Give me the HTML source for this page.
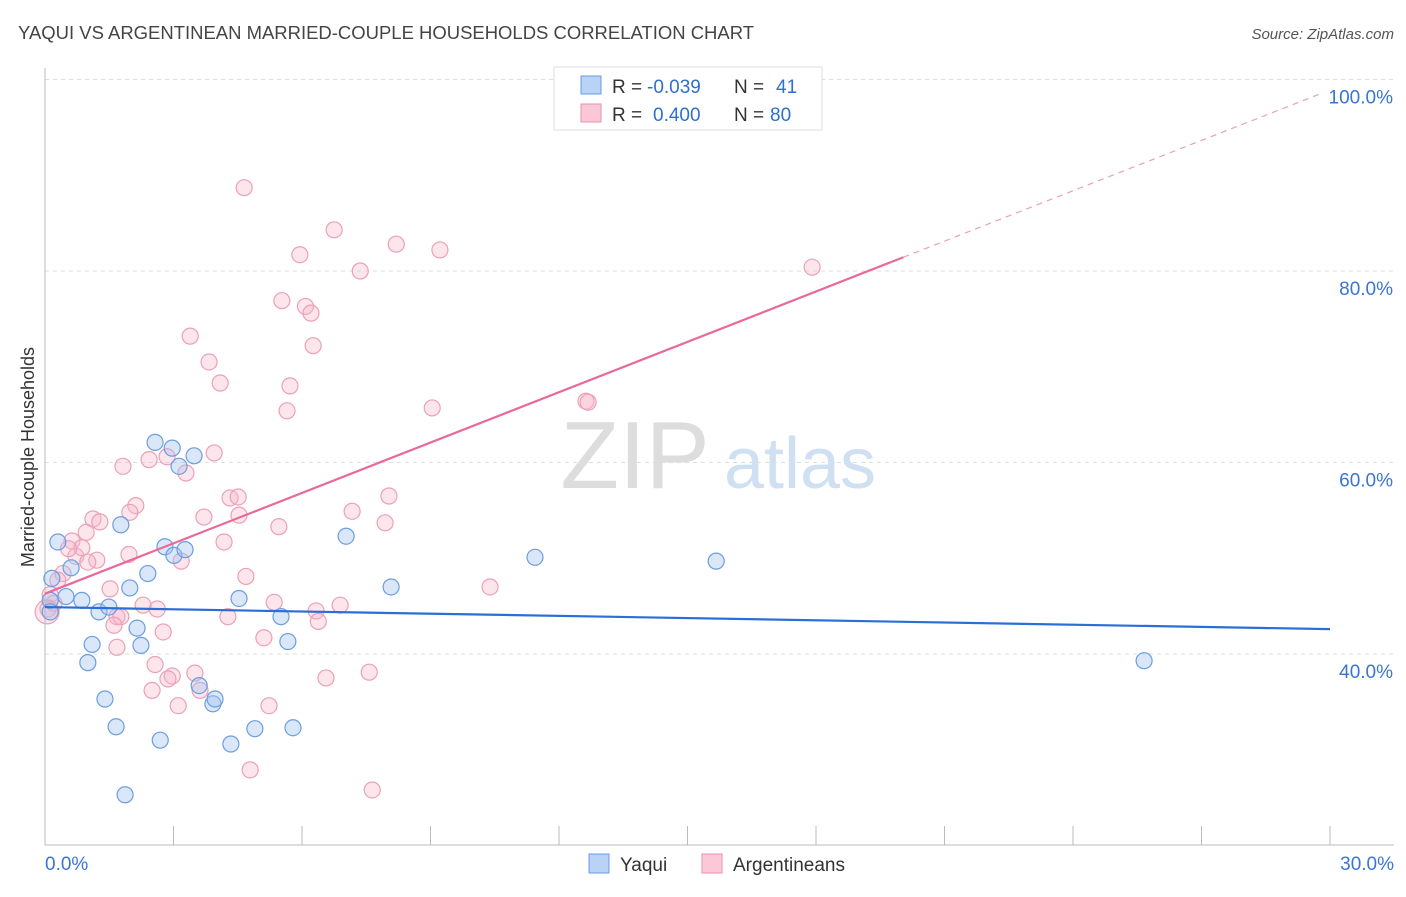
<!DOCTYPE html>
<html><head><meta charset="utf-8"><style>
body{margin:0;background:#fff;font-family:"Liberation Sans",sans-serif;}
svg text{font-family:"Liberation Sans",sans-serif;}
</style></head><body>
<svg id="chart" width="1406" height="892" xmlns="http://www.w3.org/2000/svg">
<text x="18" y="39" font-size="18" fill="#444" textLength="736" lengthAdjust="spacingAndGlyphs">YAQUI VS ARGENTINEAN MARRIED-COUPLE HOUSEHOLDS CORRELATION CHART</text>
<text x="1394" y="39" font-size="15" fill="#555" font-style="italic" text-anchor="end">Source: ZipAtlas.com</text>
<g id="grid"></g>
<g>
<text x="635" y="488" font-size="96" fill="#ddd" text-anchor="middle" font-family="Liberation Serif,serif">ZIP</text>
<text x="800" y="488" font-size="72" fill="#cfe0f3" text-anchor="middle">atlas</text>
</g>
<text transform="translate(34,457) rotate(-90)" font-size="18" fill="#333" text-anchor="middle">Married-couple Households</text>
<g id="marks"></g>
<g>
<rect x="554" y="67" width="268" height="63" fill="#fff" stroke="#ddd"/>
<rect x="581" y="76" width="20" height="18" fill="#b8d3f5" stroke="#6a9be0"/>
<rect x="581" y="104" width="20" height="18" fill="#fcc8d8" stroke="#e890ae"/>
<text x="612" y="93" font-size="19" fill="#333">R =</text>
<text x="647" y="93" font-size="19" fill="#2f6fd0">-0.039</text>
<text x="734" y="93" font-size="19" fill="#333">N =</text>
<text x="776" y="93" font-size="19" fill="#2f6fd0">41</text>
<text x="612" y="121" font-size="19" fill="#333">R =</text>
<text x="653" y="121" font-size="19" fill="#2f6fd0">0.400</text>
<text x="734" y="121" font-size="19" fill="#333">N =</text>
<text x="770" y="121" font-size="19" fill="#2f6fd0">80</text>
</g>
<g>
<rect x="589" y="854" width="20" height="19" fill="#b8d3f5" stroke="#6a9be0"/>
<text x="620" y="871" font-size="19" fill="#333">Yaqui</text>
<rect x="702" y="854" width="20" height="19" fill="#fcc8d8" stroke="#e890ae"/>
<text x="733" y="871" font-size="19" fill="#333">Argentineans</text>
</g>
</svg>
<script>
const yTicks=[40,60,80,100];
const yTickLabels=["40.0%","60.0%","80.0%","100.0%"];
const xTickLabels=["0.0%","30.0%"];
const yaquiX=[0.30,0.16,0.12,0.12,0.49,0.61,0.86,1.26,1.49,1.77,1.98,2.40,2.15,2.24,1.10,1.00,1.40,1.66,1.87,2.69,2.57,2.97,3.13,3.48,2.80,3.01,3.27,3.60,3.92,3.97,4.34,4.53,4.90,5.51,5.67,5.79,7.03,8.08,11.44,15.67,25.66];
const yaquiY=[51.7,47.9,45.6,44.4,46.0,49.0,45.6,44.4,44.9,53.5,46.9,48.4,42.7,40.9,41.0,39.1,35.3,32.4,25.3,31.0,62.1,61.5,59.6,60.7,51.2,50.3,50.9,36.7,34.8,35.3,30.6,45.8,32.2,43.9,41.3,32.3,52.3,47.0,50.1,49.7,39.3];
const argX=[4.65,6.75,8.20,9.22,5.95,7.36,17.91,5.53,6.08,6.21,6.26,3.39,3.83,4.09,5.72,5.65,9.04,12.63,3.95,2.85,2.43,1.82,3.29,4.32,4.51,8.03,2.12,1.98,7.17,3.71,4.53,1.12,1.28,5.46,7.94,0.96,4.18,0.63,0.72,0.86,1.96,1.21,1.00,3.18,0.42,0.30,4.69,10.39,1.52,0.12,0.21,2.29,2.62,5.35,6.33,6.89,0.07,4.27,1.68,1.77,6.38,1.61,2.76,5.11,1.68,2.57,3.50,2.97,2.87,7.57,6.56,3.62,2.50,3.11,5.23,4.79,7.64,0.05,12.68,0.55];
const argY=[88.7,84.3,82.8,82.2,81.7,80.0,80.4,76.9,76.3,75.6,72.2,73.2,70.5,68.3,68.0,65.4,65.7,66.4,61.0,60.6,60.3,59.6,58.9,56.3,56.4,56.5,55.5,54.8,54.9,54.3,54.5,54.1,53.8,53.3,53.7,52.7,51.7,51.8,50.2,51.1,50.4,49.8,49.6,49.7,48.4,47.7,48.1,47.0,46.8,46.2,45.3,45.1,44.7,45.4,44.5,45.1,44.7,43.9,43.9,43.9,43.4,43.0,42.3,41.7,40.7,38.9,38.0,37.7,37.4,38.1,37.5,36.2,36.2,34.6,34.6,27.9,25.8,44.4,66.3,51.0];
const yaquiTrend=[44.9,42.6];
const argTrend=[46.3,98.9];
const argSolidEnd=20.04;
const X=v=>45+v/30*1285, Y=v=>1037-v/20*191.5;
const NS="http://www.w3.org/2000/svg";
function mk(tag,attrs,parent){const e=document.createElementNS(NS,tag);for(const k in attrs)e.setAttribute(k,attrs[k]);parent.appendChild(e);return e;}
const grid=document.getElementById('grid'), marks=document.getElementById('marks');
yTicks.forEach((t,i)=>{
 const l=mk('line',{x1:45,x2:1394,y1:Y(t),y2:Y(t),stroke:'#ddd','stroke-dasharray':'4,4'},grid);
 
 
 const tx=mk('text',{x:1393,y:Y(t)+24,'font-size':19,fill:'#3a75d4','text-anchor':'end'},grid);
 tx.textContent=yTickLabels[i];
 
 
});
const ax=mk('line',{x1:45,x2:1394,y1:845,y2:845,stroke:'#bbb'},grid);


const ay=mk('line',{x1:45,x2:45,y1:68,y2:845,stroke:'#bbb'},grid);


for(let i=0;i<=10;i++){const t=mk('line',{x1:X(i*3),x2:X(i*3),y1:826,y2:845,stroke:'#bbb'},grid);
 
 }
[[0,'start',45],[30,'end',1394]].forEach((d,i)=>{const t=mk('text',{x:d[2],y:870,'font-size':19,fill:'#3a75d4','text-anchor':d[1]},grid);t.textContent=xTickLabels[i];
 
 });
argX.forEach((x,i)=>{const c=mk('circle',{cx:X(x),cy:Y(argY[i]),r:i==77?12:8,fill:'rgba(248,180,200,0.35)',stroke:'#eba0b8','stroke-width':1.2},marks);
 
 });
yaquiX.forEach((x,i)=>{const c=mk('circle',{cx:X(x),cy:Y(yaquiY[i]),r:8,fill:'rgba(160,195,240,0.4)',stroke:'#6c9de0','stroke-width':1.2},marks);
 
 });
const yl=mk('line',{x1:X(0),y1:Y(yaquiTrend[0]),x2:X(30),y2:Y(yaquiTrend[1]),stroke:'#2a6fd6','stroke-width':2.2},marks);


const slope=(argTrend[1]-argTrend[0])/30, ym=argTrend[0]+slope*argSolidEnd;
const pl=mk('line',{x1:X(0),y1:Y(argTrend[0]),x2:X(argSolidEnd),y2:Y(ym),stroke:'#e8699a','stroke-width':2.2},marks);


const pd=mk('line',{x1:X(argSolidEnd),y1:Y(ym),x2:X(29.8),y2:Y(argTrend[0]+slope*29.8),stroke:'#eaa0b8','stroke-width':1.2,'stroke-dasharray':'6,5'},marks);


</script>
</body></html>
